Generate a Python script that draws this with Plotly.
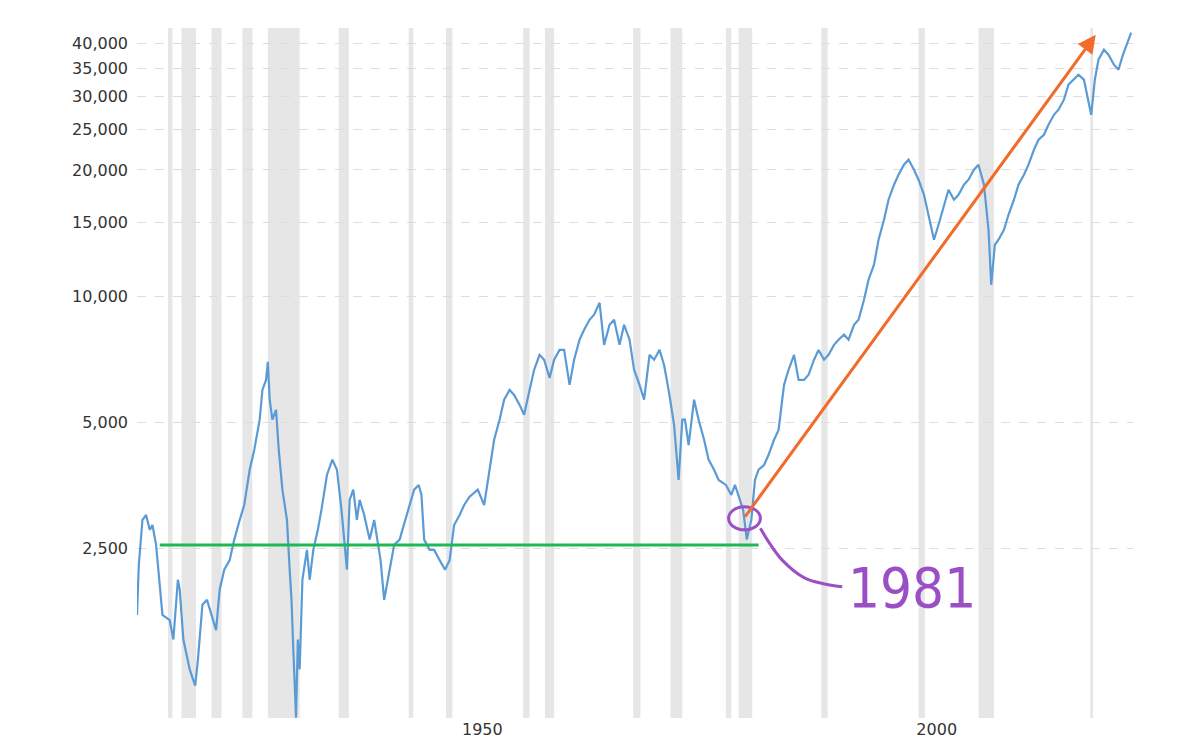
import math
import plotly.graph_objects as go

# x position in years, real value on log scale
years = [1912.0, 1912.2, 1912.6, 1913.0, 1913.4, 1913.7, 1914.1, 1914.5, 1914.8, 1915.6, 1916.0, 1916.5,
         1916.7, 1917.1, 1917.8, 1918.4, 1918.7, 1919.2, 1919.7, 1920.2, 1920.7, 1921.1, 1921.6, 1922.2,
         1922.7, 1923.3, 1923.8, 1924.4, 1924.9, 1925.5, 1925.8, 1926.2, 1926.4, 1926.6, 1926.9, 1927.3,
         1927.6, 1928.0, 1928.5, 1928.8, 1929.0, 1929.2, 1929.5, 1929.7, 1929.9, 1930.2, 1930.7, 1931.0,
         1931.4, 1931.9, 1932.3, 1932.9, 1933.5, 1934.0, 1934.5, 1935.1, 1935.4, 1935.8, 1936.2, 1936.5,
         1937.0, 1937.6, 1938.1, 1938.8, 1939.2, 1939.8, 1940.3, 1940.9, 1941.4, 1942.0, 1942.5, 1943.0,
         1943.3, 1943.6, 1944.2, 1944.7, 1945.3, 1945.9, 1946.4, 1946.9, 1947.5, 1948.0, 1948.6, 1949.5,
         1950.2, 1950.8, 1951.3, 1951.9, 1952.4, 1953.0, 1953.5, 1954.1, 1954.6, 1955.2, 1955.7, 1956.3,
         1956.8, 1957.4, 1957.9, 1958.5, 1959.0, 1959.6, 1960.1, 1960.7, 1961.2, 1961.8, 1962.3, 1962.9,
         1963.4, 1964.0, 1964.5, 1965.1, 1965.6, 1966.2, 1966.7, 1967.3, 1967.8, 1968.4, 1968.9, 1969.5,
         1970.0, 1970.5, 1971.1, 1971.6, 1972.0, 1972.3, 1972.7, 1973.3, 1973.8, 1974.4, 1974.9, 1975.5,
         1976.0, 1976.8, 1977.4, 1977.8, 1978.2, 1978.7, 1979.1, 1979.6, 1980.0, 1980.4, 1981.0, 1981.5,
         1982.1, 1982.6, 1983.2, 1983.7, 1984.3, 1984.8, 1985.4, 1985.9, 1986.5, 1987.0, 1987.6, 1988.1,
         1988.7, 1989.2, 1989.8, 1990.3, 1990.9, 1991.4, 1992.0, 1992.5, 1993.1, 1993.6, 1994.2, 1994.7,
         1995.3, 1995.8, 1996.4, 1996.9, 1997.5, 1998.0, 1998.6, 1999.1, 1999.7, 2000.2, 2000.8, 2001.3,
         2001.9, 2002.4, 2003.0, 2003.5, 2004.1, 2004.6, 2005.2, 2005.7, 2006.0, 2006.4, 2006.8, 2007.4,
         2007.9, 2008.5, 2009.0, 2009.6, 2010.1, 2010.7, 2011.2, 2011.8, 2012.3, 2012.9, 2013.4, 2014.0,
         2014.5, 2015.1, 2015.6, 2016.2, 2016.7, 2017.0, 2017.4, 2017.8, 2018.4, 2018.9, 2019.5, 2020.0,
         2020.5, 2021.1, 2021.4]
dow_real = [1740, 2290, 2930, 3010, 2775, 2850, 2555, 2000, 1740, 1690, 1520, 2110,
            2000, 1520, 1290, 1180, 1360, 1840, 1890, 1740, 1600, 2000, 2230, 2350,
            2630, 2930, 3180, 3860, 4300, 5080, 5980, 6320, 6980, 5670, 5080, 5360,
            4300, 3460, 2930, 2230, 1890, 1440, 990, 1520, 1290, 2110, 2486, 2110,
            2486, 2775, 3100, 3750, 4080, 3860, 3100, 2230, 3270, 3460, 2930, 3270,
            3010, 2630, 2930, 2350, 1890, 2230, 2555, 2630, 2850, 3180, 3460, 3550,
            3360, 2630, 2486, 2486, 2350, 2230, 2350, 2850, 3010, 3180, 3330, 3460,
            3180, 3860, 4550, 5080, 5670, 5980, 5820, 5510, 5220, 5980, 6680, 7250,
            7060, 6390, 7060, 7450, 7450, 6150, 7060, 7880, 8320, 8790, 9040, 9650,
            7660, 8550, 8790, 7660, 8550, 7880, 6680, 6150, 5670, 7250, 7060, 7450,
            6860, 5980, 4940, 3650, 5080, 5080, 4420, 5670, 5080, 4550, 4080, 3860,
            3650, 3550, 3360, 3550, 3360, 3100, 2630, 2930, 3650, 3860, 3960, 4190,
            4550, 4800, 6150, 6680, 7250, 6320, 6320, 6500, 7060, 7450, 7060, 7250,
            7660, 7880, 8100, 7880, 8550, 8790, 9810, 10950, 11890, 13640, 15220, 16990,
            18450, 19490, 20590, 21160, 20030, 18960, 17460, 15640, 13640, 14810, 16530, 17950,
            16990, 17460, 18450, 18960, 20030, 20590, 18450, 14400, 10650, 13270, 13640, 14400,
            15640, 16990, 18450, 19490, 20590, 22350, 23610, 24270, 25640, 27080, 27840, 29420,
            31940, 32830, 33740, 32830, 29420, 27080, 32830, 36630, 38700, 37670, 35650, 34680,
            37670, 40870, 42480]

# recession start / end years
rec_start = [1915.4, 1916.9, 1920.2, 1923.6, 1926.4, 1934.2, 1941.9, 1946.0, 1954.5, 1956.9,
             1966.6, 1970.7, 1976.8, 1978.2, 1987.3, 1998.0, 2004.6, 2016.9]
rec_end = [1915.9, 1918.5, 1921.3, 1924.7, 1929.9, 1935.3, 1942.4, 1946.7, 1955.2, 1957.9,
           1967.4, 1972.0, 1977.4, 1979.7, 1988.0, 1998.7, 2006.3, 2017.2]

support_years = [1914.5, 1980.4]
support_level = 2555
arrow_from = (1978.8, 2960)
arrow_to = (2017.5, 42000)
circle_years = [1977.1, 1980.6]
circle_vals = [2775, 3150]
pointer_years = [1980.6, 1981.4, 1983.0, 1985.5, 1989.6]
pointer_vals = [2800, 2620, 2350, 2130, 2030]

tick_vals = [2500, 5000, 10000, 15000, 20000, 25000, 30000, 35000, 40000]

fig = go.Figure()

for s, e in zip(rec_start, rec_end):
    fig.add_vrect(x0=s, x1=e, fillcolor="#e6e6e6", line_width=0, layer="below")

fig.add_trace(go.Scatter(x=years, y=dow_real, mode="lines",
                         line=dict(color="#5b9bd5", width=2.2), showlegend=False))
fig.add_trace(go.Scatter(x=support_years, y=[support_level, support_level], mode="lines",
                         line=dict(color="#1db954", width=3), showlegend=False))
fig.add_trace(go.Scatter(x=pointer_years, y=pointer_vals, mode="lines",
                         line=dict(color="#9b4fc4", width=3, shape="spline"), showlegend=False))

fig.add_shape(type="circle", xref="x", yref="y",
              x0=circle_years[0], x1=circle_years[1],
              y0=circle_vals[0], y1=circle_vals[1],
              line=dict(color="#9b4fc4", width=3))

fig.add_annotation(x=arrow_to[0], y=math.log10(arrow_to[1]), ax=arrow_from[0], ay=math.log10(arrow_from[1]),
                   xref="x", yref="y", axref="x", ayref="y", text="", showarrow=True,
                   arrowhead=2, arrowsize=1.2, arrowwidth=3, arrowcolor="#f26b2a")

fig.add_annotation(x=1990.0, y=math.log10(2020), text="1981", showarrow=False, xanchor="left",
                   font=dict(family="Liberation Sans Narrow, DejaVu Sans Condensed", size=56, color="#9b4fc4"))

# page body has an 8px margin, so margins are offset to line up with the reference
fig.update_layout(
    width=1200, height=756, plot_bgcolor="white", paper_bgcolor="white",
    margin=dict(l=129, r=75, t=20, b=46),
    font=dict(family="DejaVu Sans", size=16, color="#333"),
    xaxis=dict(range=[1912, 2021.6], tickvals=[1950, 2000], showgrid=False, zeroline=False,
               showline=False, ticks="", automargin=False),
    yaxis=dict(type="log", range=[math.log10(988), math.log10(43600)], tickvals=tick_vals,
               ticktext=[f"{v:,}" for v in tick_vals], showgrid=True, gridcolor="#dddddd",
               griddash="dash", zeroline=False, ticks="", ticklabelstandoff=8, automargin=False),
)

fig.write_html("out.html")
